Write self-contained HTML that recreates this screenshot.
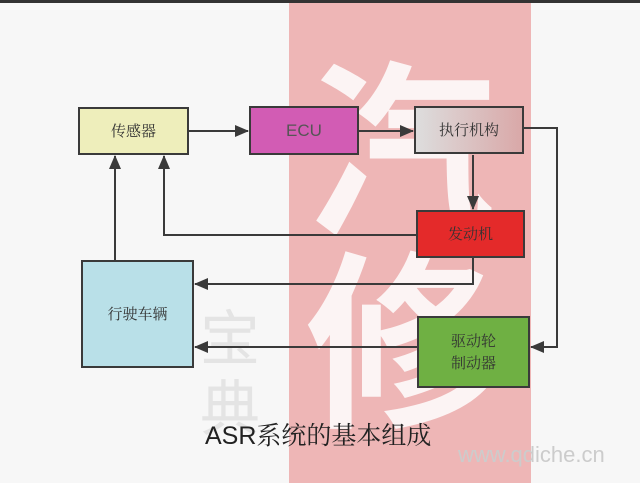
<!DOCTYPE html><html><head><meta charset="utf-8"><style>
body{margin:0;width:640px;height:483px;overflow:hidden;background:#f7f7f7;position:relative;font-family:"Liberation Sans","Noto Sans CJK SC",sans-serif}
.b{position:absolute;border:2px solid #3a3a3a;box-sizing:border-box;display:flex;align-items:center;justify-content:center;font-family:"Noto Serif CJK SC","Noto Sans CJK SC",serif;font-size:15px;color:#333;text-align:center;line-height:1.5}
</style></head><body>
<div style="position:absolute;left:0;top:0;width:640px;height:3px;background:#333"></div>
<div style="position:absolute;left:289px;top:3px;width:242px;height:480px;background:#eeb6b6"></div>
<div style="position:absolute;left:305px;top:45px;font-size:190px;color:#fff;opacity:.85;line-height:190px;font-family:'Noto Sans CJK SC',sans-serif;font-weight:bold">汽<br>修</div>
<div style="position:absolute;left:200px;top:300px;font-size:60px;color:#e4e4e4;line-height:70px;font-family:'Noto Sans CJK SC',sans-serif">宝<br>典</div>
<div class="b" style="left:78px;top:107px;width:111px;height:48px;background:#eeeebb">传感器</div>
<div class="b" style="left:249px;top:106px;width:110px;height:49px;background:#d25cb4;font-family:'Liberation Sans',sans-serif;color:#555;font-size:17px">ECU</div>
<div class="b" style="left:414px;top:106px;width:110px;height:48px;background:linear-gradient(90deg,#ddd,#d9a8a8)">执行机构</div>
<div class="b" style="left:416px;top:210px;width:109px;height:48px;background:#e42a2a">发动机</div>
<div class="b" style="left:81px;top:260px;width:113px;height:108px;background:#b9e0e8">行驶车辆</div>
<div class="b" style="left:417px;top:316px;width:113px;height:72px;background:#6fb043">驱动轮<br>制动器</div>
<svg width="640" height="483" style="position:absolute;left:0;top:0">
<defs><marker id="a" markerWidth="14" markerHeight="12" refX="13" refY="6" orient="auto" markerUnits="userSpaceOnUse"><path d="M0,0L14,6L0,12z" fill="#3a3a3a"/></marker></defs>
<g stroke="#3a3a3a" stroke-width="2" fill="none" marker-end="url(#a)">
<path d="M189 131H248"/><path d="M359 131H413"/><path d="M473 155V209"/>
<path d="M416 235H164V156"/><path d="M115 260V156"/>
<path d="M473 258V284H195"/><path d="M524 128H557V347H531"/><path d="M417 347H195"/>
</g></svg>
<div style="position:absolute;left:205px;top:416px;font-size:25px;color:#222;font-family:'Liberation Sans','Noto Serif CJK SC',serif">ASR系统的基本组成</div>
<div style="position:absolute;left:458px;top:442px;font-size:22px;color:#ccc;font-family:'Liberation Sans',sans-serif">www.qdiche.cn</div>
</body></html>
